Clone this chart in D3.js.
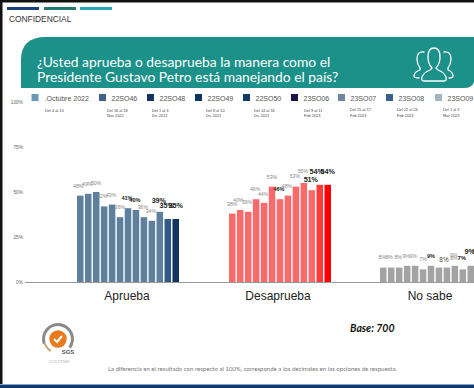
<!DOCTYPE html>
<html><head><meta charset="utf-8">
<script src="https://cdnjs.cloudflare.com/ajax/libs/d3/7.8.5/d3.min.js"></script>
<style>html,body{margin:0;padding:0;background:#fff}svg{display:block}text{font-family:"Liberation Sans",Arial,sans-serif}</style>
</head><body><div id="c"></div>
<script>
const W=474,H=388;
const categories=["Aprueba","Desaprueba","No sabe"];
const waves=[".Octubre 2022","22SO46","22SO48","22SO49","22SO50","23SO06","23SO07","23SO08","23SO09"];
const waveDates=[["Del 4 al 14"],["Del 16 al 18","Nov 2022"],["Del 1 al 3","Dic 2022"],["Del 8 al 10","Dic 2022"],["Del 14 al 16","Dic 2022"],["Del 9 al 11","Feb 2023"],["Del 15 al 17","Feb 2023"],["Del 22 al 24","Feb 2023"],["Del 1 al 3","Mar 2023"]];
const waveColors=["#6a97b5","#3f6288","#12365f","#0f3663","#123a66","#1a1646","#6f86a3","#3a5f88","#a3b4c4"];
const aprueba=[48,49,50,42,43,36,41,40,36,34,39,35,35];
const desaprueba=[38,40,39,46,44,53,46,48,53,55,51,54,54];
const noSabe=[8,8,8,9,9,7,9,8,8,9,7,9,9];
const yTicks=[0,25,50,75,100];

// label styling: 0 = light, 1 = dark, 2 = dark and large
const apruebaWeight=[0,0,0,0,0,0,1,1,0,0,2,2,2];
const desapruebaWeight=[0,0,0,0,0,0,1,0,0,0,2,2,2];
const noSabeWeight=[0,0,0,0,0,0,1,3,0,0,1,2,2];
// hand nudges of the crowded labels, relative to their bar
const apruebaNudgeX=[-2,-1,0,-2,-1,0,-1,-1,-1,-1,-1,-1,0];
const apruebaNudgeY=[8,8,7,8,8,8,8,8,8,8,9,11,11];
const desapruebaNudgeX=[0,-2,-1,-1,-1,0,-1,-1,-1,-1,-1,-3,0];
const desapruebaNudgeY=[8,8,8,8,7,8,8,8,8.5,10,8.5,11,11];
const noSabeNudgeX=[-1,-2,-1,-1,-2,0,0,5,7,-1,-1,-1,-1];
const noSabeNudgeY=[8.5,8.5,8.5,8,8,8.5,8,6,7.5,9,9,12,12];

const greys=d3.range(13).map(()=>"#a3a3a3");
const apruebaColors=d3.range(13).map(i=>i==11?"#2f5a87":i==12?"#0f3560":"#5f7f9f");
const desapruebaColors=d3.range(13).map(i=>i==11?"#fb3a3a":i==12?"#fb0000":"#fb6a6a");

const svg=d3.select("#c").append("svg").attr("width",W).attr("height",H);

// frame
svg.append("rect").attr("width",W).attr("height",H).attr("fill","#fff");
svg.append("rect").attr("width",W).attr("height",2.5).attr("fill","#111");
svg.append("rect").attr("width",2.5).attr("height",H).attr("fill","#111");
svg.append("rect").attr("y",385).attr("width",W).attr("height",3).attr("fill","#143a6b");
svg.append("rect").attr("y",384).attr("width",W).attr("height",1).attr("fill","#7fa8d0");

// header
[["#1a3f7a",7],["#23786f",44],["#2aa5b8",80]].forEach(([c,x])=>svg.append("rect").attr("x",x).attr("y",7).attr("width",32).attr("height",3).attr("fill",c));
svg.append("text").attr("x",9).attr("y",22).attr("font-size",8.4).attr("fill","#333").text("CONFIDENCIAL");

// banner
svg.append("path").attr("d","M21 88 V60 Q21 37 46 37 H474 V82 Q472 88 464 88 Z").attr("fill","#1b9189");
const t=svg.append("g").attr("fill","#fff");
t.append("text").attr("x",37).attr("y",67).attr("font-size",13.85).style("font-family","Lato").text("¿Usted aprueba o desaprueba la manera como el");
t.append("text").attr("x",37).attr("y",82).attr("font-size",13.85).style("font-family","Lato").text("Presidente Gustavo Petro está manejando el país?");

// people icon
const ic=svg.append("g").attr("fill","none").attr("stroke","#fff").attr("stroke-width",1.3).attr("stroke-linejoin","round").attr("stroke-linecap","round");
ic.append("path").attr("d","M424 81 H444 Q447 81 446 77 Q444 72 438 70 L436 68 Q440 64 440 57 Q440 48 434 48 Q428 48 428 57 Q428 64 432 68 L430 70 Q424 72 422 77 Q421 81 424 81 Z");
ic.append("path").attr("d","M424 52 Q417 51 417 59 Q417 64 420 68 L420 70 Q414 72 414 76 Q414 78 419 78");
ic.append("path").attr("d","M444 52 Q451 51 451 59 Q451 64 448 68 V70 Q453 72 453 76 Q453 78 449 78");

// legend
const lx=[31.5,99,147,195,243,291,338,386,435];
const lg=svg.append("g").selectAll("g").data(waves).join("g");
lg.append("rect").attr("x",(d,i)=>lx[i]).attr("y",94).attr("width",7).attr("height",7).attr("fill",(d,i)=>waveColors[i]);
lg.append("text").attr("x",(d,i)=>lx[i]+(i==0?13:12.5)).attr("y",100.5).attr("font-size",7).attr("fill","#555").text(d=>d);
const dateX=[45,107,152,206,254,304,350,397,443];
waveDates.forEach((ls,i)=>ls.forEach((s,j)=>svg.append("text").attr("x",dateX[i]).attr("y",(i>5?111:111.5)+j*5.7).attr("font-size",3.9).attr("fill","#444").text(s)));

// scales
const y=d3.scaleLinear().domain([0,100]).range([282,102]);
const groupStart=d3.scaleOrdinal().domain(categories).range([77,229,380]);
const x=d3.scaleBand().domain(d3.range(13)).range([0,102]).paddingInner(0.18).paddingOuter(0);

// y axis
const ax=svg.append("g").attr("transform","translate(23,0)").call(d3.axisLeft(y).tickValues(yTicks).tickFormat(d=>d+"%").tickSize(0));
ax.select(".domain").remove();
ax.selectAll("text").attr("font-size",4.8).attr("fill","#666").attr("x",0).attr("text-anchor","end").style("font-family","Liberation Sans");

// bars
const sizeOf=[5.2,5.6,7.2,6.4], fillOf=["#888","#222","#222","#444"], boldOf=["normal","bold","bold","normal"];
const series=[
 [categories[0],aprueba,apruebaColors,apruebaWeight,apruebaNudgeX,apruebaNudgeY],
 [categories[1],desaprueba,desapruebaColors,desapruebaWeight,desapruebaNudgeX,desapruebaNudgeY],
 [categories[2],noSabe,greys,noSabeWeight,noSabeNudgeX,noSabeNudgeY]];
series.forEach(([name,vals,cols,wt,nx,ny])=>{
  const g=svg.append("g").attr("transform",`translate(${groupStart(name)},0)`);
  g.selectAll("rect").data(vals).join("rect").attr("x",(d,i)=>x(i)).attr("y",d=>y(d)).attr("width",x.bandwidth()).attr("height",d=>y(0)-y(d)).attr("fill",(d,i)=>cols[i]);
  g.selectAll("text").data(vals).join("text").attr("x",(d,i)=>x(i)+x.bandwidth()/2+nx[i]).attr("y",(d,i)=>y(d)-ny[i])
    .attr("text-anchor","middle").attr("font-size",(d,i)=>sizeOf[wt[i]]).attr("font-weight",(d,i)=>boldOf[wt[i]]).attr("fill",(d,i)=>fillOf[wt[i]]).text(d=>d+"%");
});
svg.append("line").attr("x1",25).attr("x2",W).attr("y1",y(0)+.5).attr("y2",y(0)+.5).attr("stroke","#9a9a9a").attr("stroke-width",1);

// category labels
[[127,categories[0]],[278,categories[1]],[430,categories[2]]].forEach(([px,s])=>svg.append("text").attr("x",px).attr("y",300).attr("text-anchor","middle").attr("font-size",12).attr("fill","#222").text(s));

// base + note
svg.append("text").attr("x",350).attr("y",332).attr("font-size",10.5).attr("font-weight","bold").attr("font-style","italic").style("font-family","Lato").attr("fill","#111").text("Base: 700");
svg.append("text").attr("x",108).attr("y",371).attr("font-size",6.05).style("font-family","Lato").attr("fill","#777").text("La diferencia en el resultado con respecto al 100%, corresponde a los decimales en las opciones de respuesta.");

// logo
const lg2=svg.append("g").attr("transform","translate(58,339)");
const arc=d3.arc();
lg2.append("path").attr("d",arc({innerRadius:13,outerRadius:16,startAngle:-1.9,endAngle:2.2})).attr("fill","#8a8a8a");
lg2.append("path").attr("d",arc({innerRadius:13,outerRadius:15,startAngle:-2.6,endAngle:-1.9})).attr("fill","#c9a27a");
lg2.append("circle").attr("r",8.7).attr("fill","#e87a1d");
lg2.append("path").attr("d","M-4 0 L-1 3 L4 -3").attr("fill","none").attr("stroke","#fff").attr("stroke-width",2);
svg.append("text").attr("x",68).attr("y",354).attr("text-anchor","middle").attr("font-size",6).attr("font-weight","bold").attr("fill","#555").text("SGS");
svg.append("text").attr("x",59).attr("y",363).attr("text-anchor","middle").attr("font-size",4).attr("fill","#aaa").text("CO17/7569");
</script></body></html>
